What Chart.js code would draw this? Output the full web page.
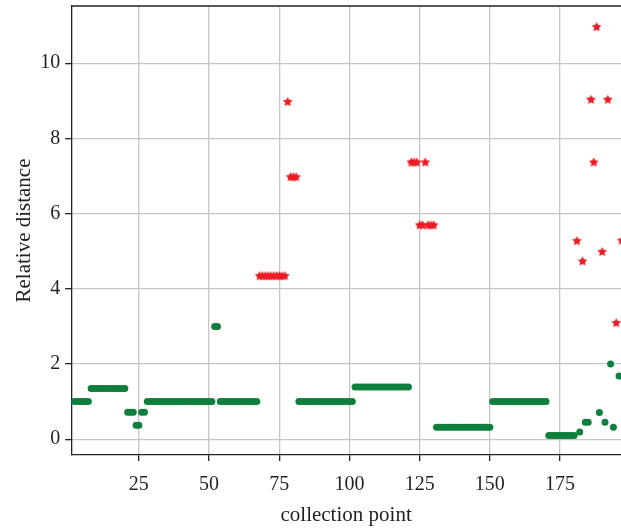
<!DOCTYPE html>
<html>
<head>
<meta charset="utf-8">
<script src="https://cdn.jsdelivr.net/npm/chart.js@4/dist/chart.umd.min.js"></script>
<style>
  html, body { margin: 0; padding: 0; background: #fff; }
  #wrap { width: 621px; height: 529px; }
</style>
</head>
<body>
<div id="wrap"><canvas id="myChart"></canvas></div>
<script>
// collection points 1..197 (index 0 = point 1)
var firstPoint = 1;
var xTicks = [25, 50, 75, 100, 125, 150, 175];
var yTicks = [0, 2, 4, 6, 8, 10];

// green dots
var normalDist = [
  null, 1, 1, 1, 1, 1, 1, 1.35, 1.35, 1.35,
  1.35, 1.35, 1.35, 1.35, 1.35, 1.35, 1.35, 1.35, 1.35, 1.35,
  0.72, 0.72, 0.72, 0.37, 0.37, 0.72, 0.72, 1, 1, 1,
  1, 1, 1, 1, 1, 1, 1, 1, 1, 1,
  1, 1, 1, 1, 1, 1, 1, 1, 1, 1,
  1, 3, 3, 1, 1, 1, 1, 1, 1, 1,
  1, 1, 1, 1, 1, 1, 1, null, null, null,
  null, null, null, null, null, null, null, null, null, null,
  null, 1, 1, 1, 1, 1, 1, 1, 1, 1,
  1, 1, 1, 1, 1, 1, 1, 1, 1, 1,
  1, 1.39, 1.39, 1.39, 1.39, 1.39, 1.39, 1.39, 1.39, 1.39,
  1.39, 1.39, 1.39, 1.39, 1.39, 1.39, 1.39, 1.39, 1.39, 1.39,
  1.39, null, null, null, null, null, null, null, null, null,
  0.32, 0.32, 0.32, 0.32, 0.32, 0.32, 0.32, 0.32, 0.32, 0.32,
  0.32, 0.32, 0.32, 0.32, 0.32, 0.32, 0.32, 0.32, 0.32, 0.32,
  1, 1, 1, 1, 1, 1, 1, 1, 1, 1,
  1, 1, 1, 1, 1, 1, 1, 1, 1, 1,
  0.1, 0.1, 0.1, 0.1, 0.1, 0.1, 0.1, 0.1, 0.1, 0.1,
  null, 0.19, null, 0.45, 0.45, null, null, null, 0.71, null,
  0.45, null, 2.0, 0.32, null, 1.68, null
];

// red stars
var abnormalDist = [
  null, null, null, null, null, null, null, null, null, null,
  null, null, null, null, null, null, null, null, null, null,
  null, null, null, null, null, null, null, null, null, null,
  null, null, null, null, null, null, null, null, null, null,
  null, null, null, null, null, null, null, null, null, null,
  null, null, null, null, null, null, null, null, null, null,
  null, null, null, null, null, null, null, 4.35, 4.35, 4.35,
  4.35, 4.35, 4.35, 4.35, 4.35, 4.35, 4.35, 8.98, 6.98, 6.98,
  6.98, null, null, null, null, null, null, null, null, null,
  null, null, null, null, null, null, null, null, null, null,
  null, null, null, null, null, null, null, null, null, null,
  null, null, null, null, null, null, null, null, null, null,
  null, 7.37, 7.37, 7.37, 5.7, 5.7, 7.37, 5.7, 5.7, 5.7,
  null, null, null, null, null, null, null, null, null, null,
  null, null, null, null, null, null, null, null, null, null,
  null, null, null, null, null, null, null, null, null, null,
  null, null, null, null, null, null, null, null, null, null,
  null, null, null, null, null, null, null, null, null, null,
  5.28, null, 4.74, null, null, 9.04, 7.37, 10.97, null, 4.99,
  null, 9.04, null, null, 3.10, null, 5.29
];

function toPoints(arr) {
  var out = [];
  arr.forEach(function (v, i) {
    if (v !== null) out.push({ x: firstPoint + i, y: v });
  });
  return out;
}

// filled five-point star marker
var star = document.createElement("canvas");
star.width = 11; star.height = 11;
(function () {
  var c = star.getContext("2d");
  c.fillStyle = "#ee1c25";
  c.beginPath();
  for (var k = 0; k < 10; k++) {
    var r = k % 2 === 0 ? 5.0 : 2.6;
    var a = -Math.PI / 2 + k * Math.PI / 5;
    var px = 5.5 + r * Math.cos(a), py = 5.9 + r * Math.sin(a);
    if (k === 0) c.moveTo(px, py); else c.lineTo(px, py);
  }
  c.closePath();
  c.fill();
})();

var serif = "'Liberation Serif', 'DejaVu Serif', serif";
var gridColor = "#c6c6c6";

var topBorder = {
  id: "topBorder",
  afterDraw: function (chart) {
    var a = chart.chartArea, ctx = chart.ctx;
    ctx.save();
    ctx.strokeStyle = "#222";
    ctx.lineWidth = 1.3;
    ctx.beginPath();
    ctx.moveTo(a.left, a.top);
    ctx.lineTo(a.right, a.top);
    ctx.stroke();
    ctx.restore();
  }
};

function noEdgePadding(s) {
  s.paddingTop = 0; s.paddingBottom = 0;
  s.paddingLeft = 0; s.paddingRight = 0;
}

new Chart("myChart", {
  type: "scatter",
  data: {
    datasets: [
      {
        label: "normal",
        data: toPoints(normalDist),
        backgroundColor: "#0e7f3c",
        borderWidth: 0,
        pointRadius: 3.5,
        pointHoverRadius: 3.5
      },
      {
        label: "abnormal",
        data: toPoints(abnormalDist),
        pointStyle: star,
        backgroundColor: "#ee1c25",
        pointRadius: 4
      }
    ]
  },
  options: {
    responsive: true,
    maintainAspectRatio: false,
    animation: false,
    layout: { autoPadding: false, padding: { left: 12, top: 6, right: 0, bottom: 3 } },
    plugins: {
      legend: { display: false },
      tooltip: { enabled: false }
    },
    scales: {
      x: {
        type: "linear",
        min: 0.9,
        max: 196.7,
        afterBuildTicks: function (s) {
          s.ticks = xTicks.map(function (v) { return { value: v }; });
        },
        afterFit: noEdgePadding,
        grid: { color: gridColor, lineWidth: 1.3, tickLength: 6, tickColor: "#222", tickWidth: 1.3 },
        border: { color: "#222", width: 1.3 },
        ticks: { font: { family: serif, size: 20 }, color: "#231f20", padding: 12, maxRotation: 0 },
        title: {
          display: true,
          text: "collection point",
          font: { family: serif, size: 21, lineHeight: 1 },
          color: "#231f20",
          padding: { top: -4, bottom: 0 }
        }
      },
      y: {
        min: -0.42,
        max: 11.52,
        afterBuildTicks: function (s) {
          s.ticks = yTicks.map(function (v) { return { value: v }; });
        },
        afterFit: noEdgePadding,
        grid: { color: gridColor, lineWidth: 1.3, tickLength: 6, tickColor: "#222", tickWidth: 1.3 },
        border: { color: "#222", width: 1.3 },
        ticks: { font: { family: serif, size: 20 }, color: "#231f20", padding: 5 },
        title: {
          display: true,
          text: "Relative distance",
          font: { family: serif, size: 21 },
          color: "#231f20",
          padding: { top: 0, bottom: -2 }
        }
      }
    }
  },
  plugins: [topBorder]
});
</script>
</body>
</html>
